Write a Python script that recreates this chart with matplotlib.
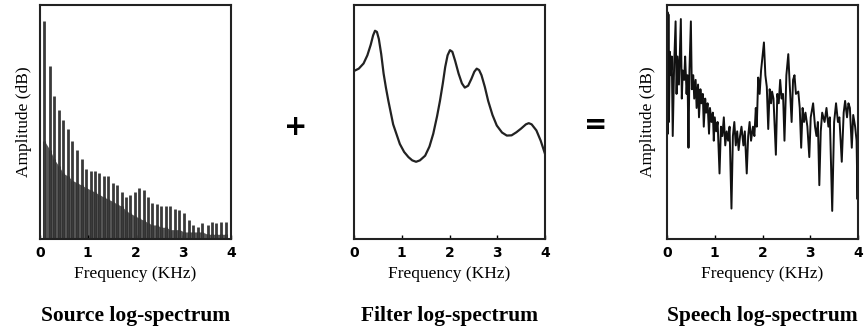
import numpy as np
import matplotlib.pyplot as plt

# ---- data (amplitude on a 0-100 relative scale) ----

# source: harmonic frequencies (kHz), harmonic peak heights and the dark floor
harm_freq = [0.09, 0.21, 0.30, 0.40, 0.49, 0.58, 0.68, 0.78, 0.87, 0.96,
             1.06, 1.15, 1.24, 1.33, 1.43, 1.53, 1.61, 1.71, 1.81, 1.89,
             1.98, 2.07, 2.17, 2.26, 2.35, 2.44, 2.54, 2.64, 2.73, 2.83,
             2.92, 3.02, 3.11, 3.21, 3.31, 3.40, 3.51, 3.60, 3.69, 3.79, 3.89]
harm_peak = [93, 74, 61, 55, 51, 47, 42, 38, 34, 30,
             29, 29, 28, 27, 27, 24, 23, 20, 18, 19,
             20, 22, 21, 18, 15.5, 15, 14, 14, 14, 13,
             12.4, 11, 8, 6, 5.3, 6.7, 6, 7.4, 6.7, 7.4, 7.4]
harm_floor = [42, 38, 34, 31, 28, 27, 25, 24, 23, 22,
              21, 20, 19, 18, 17, 16, 15, 14, 12, 11,
              10, 9, 8, 7, 6, 6, 5, 5, 4, 4,
              4, 3, 3, 3, 3, 3, 2, 2, 2, 2, 2]

# filter: smooth vocal tract envelope
filt_freq = [0.00, 0.10, 0.20, 0.28, 0.35, 0.40, 0.44, 0.48, 0.52, 0.57,
             0.62, 0.67, 0.72, 0.82, 0.96, 1.05, 1.14, 1.22, 1.30, 1.38,
             1.49, 1.58, 1.66, 1.74, 1.80, 1.86, 1.91, 1.96, 2.01, 2.06,
             2.12, 2.19, 2.26, 2.32, 2.39, 2.46, 2.52, 2.57, 2.62, 2.67,
             2.74, 2.81, 2.90, 2.99, 3.10, 3.20, 3.30, 3.40, 3.50, 3.60,
             3.66, 3.72, 3.82, 3.91, 4.00]
filt_amp = [71.8, 72.8, 75, 78.5, 83, 87, 89, 88.5, 85.5, 79,
            70.7, 64.5, 59, 49, 40.6, 37.2, 35, 33.6, 33, 33.6,
            35.6, 39.5, 45, 52.5, 59, 66.5, 73.5, 78.5, 80.7, 80,
            76, 70.7, 66.5, 64.7, 65.5, 68.5, 71.5, 72.8, 72.2, 70,
            65, 59, 53, 48.5, 45.5, 44.2, 44.3, 45.6, 47.2, 49,
            49.5, 49, 46.4, 42, 36.4]

# speech: source x filter, noisy trace
speech_freq = [0.00, 0.01, 0.02, 0.03, 0.04, 0.06, 0.08, 0.10, 0.12, 0.15,
               0.18, 0.20, 0.22, 0.25, 0.27, 0.29, 0.31, 0.33, 0.36, 0.38,
               0.41, 0.43, 0.45, 0.47, 0.50, 0.52, 0.55, 0.57, 0.60, 0.62,
               0.65, 0.67, 0.70, 0.72, 0.75, 0.77, 0.80, 0.82, 0.85, 0.88,
               0.90, 0.93, 0.96, 0.98, 1.00, 1.03, 1.06, 1.10, 1.13, 1.16,
               1.19, 1.22, 1.25, 1.28, 1.31, 1.35, 1.38, 1.41, 1.44, 1.47,
               1.50, 1.53, 1.56, 1.60, 1.63, 1.67, 1.70, 1.73, 1.76, 1.80,
               1.83, 1.86, 1.88, 1.91, 1.94, 1.97, 2.00, 2.03, 2.06, 2.09,
               2.12, 2.15, 2.18, 2.20, 2.23, 2.28, 2.31, 2.34, 2.37, 2.40,
               2.43, 2.46, 2.50, 2.54, 2.57, 2.61, 2.64, 2.67, 2.70, 2.75,
               2.78, 2.81, 2.84, 2.87, 2.90, 2.94, 2.98, 3.01, 3.06, 3.10,
               3.13, 3.16, 3.19, 3.22, 3.25, 3.30, 3.34, 3.38, 3.41, 3.46,
               3.50, 3.54, 3.58, 3.61, 3.66, 3.70, 3.73, 3.77, 3.80, 3.83,
               3.87, 3.90, 3.94, 3.97, 3.99, 4.00]
speech_amp = [60, 97, 45, 96, 50, 80, 70, 78, 44, 75,
              93, 62, 78, 66, 80, 94, 60, 72, 68, 78,
              62, 70, 39, 72, 93, 64, 70, 60, 68, 56,
              66, 52, 64, 58, 62, 48, 60, 54, 58, 45,
              56, 50, 54, 42, 52, 46, 50, 28, 48, 44,
              52, 40, 46, 42, 48, 13, 44, 50, 40, 46,
              38, 44, 48, 40, 46, 28, 44, 50, 42, 48,
              44, 56, 48, 69, 62, 72, 78, 84, 70, 65,
              47, 64, 58, 63, 60, 36, 62, 58, 68, 60,
              62, 42, 70, 79, 66, 50, 68, 70, 62, 63,
              56, 39, 56, 50, 54, 48, 35, 52, 58, 48,
              44, 50, 23, 46, 54, 50, 56, 48, 52, 12,
              50, 58, 50, 52, 33, 54, 59, 52, 58, 56,
              39, 53, 48, 42, 17, 40]

ticks = [0, 1, 2, 3, 4]
titles = ["Source log-spectrum", "Filter log-spectrum", "Speech log-spectrum"]

plt.rcParams['font.family'] = ['Liberation Serif', 'DejaVu Serif']

fig = plt.figure(figsize=(8.67, 3.29), dpi=100)

lefts = [40 / 867, 354 / 867, 667 / 867]
bottom = 1 - 239 / 329
height = 234 / 329
width = 191 / 867

axes = [fig.add_axes([l, bottom, width, height]) for l in lefts]

# source panel: dark floor plus the harmonic spikes
ax = axes[0]
ax.fill_between(harm_freq, 0, harm_floor, color="#111111", alpha=0.7, lw=0)
ax.vlines(harm_freq, 0, harm_floor, color="#000000", lw=2.2)
ax.vlines(harm_freq, 0, harm_peak, color="#3a3a3a", lw=2.0)

# filter panel
axes[1].plot(filt_freq, filt_amp, color="#222222", lw=1.6)

# speech panel
axes[2].plot(speech_freq, speech_amp, color="#111111", lw=1.4)

for ax, title in zip(axes, titles):
    ax.set_xlim(0, 4)
    ax.set_ylim(0, 100)
    ax.set_xticks(ticks)
    ax.set_xticklabels([str(t) for t in ticks], fontsize=10, fontweight="bold",
                       family=["DejaVu Sans"])
    ax.set_yticks([])
    ax.tick_params(axis="x", direction="in", length=3, width=1, pad=5)
    for s in ax.spines.values():
        s.set_linewidth(1.5)
        s.set_color("#222222")
    ax.set_xlabel("Frequency (KHz)", fontsize=12.5, labelpad=4)
    ax.text(0.5, -0.33, title, transform=ax.transAxes, ha="center",
            va="center", fontsize=15.5, fontweight="bold")

axes[0].set_ylabel("Amplitude (dB)", fontsize=12.5, labelpad=6)
axes[2].set_ylabel("Amplitude (dB)", fontsize=12.5, labelpad=8)

fig.text(296 / 867, 1 - 127 / 329, "+", fontsize=20, fontweight="bold",
         ha="center", va="center", family=["DejaVu Sans"])
fig.text(596 / 867, 1 - 125 / 329, "=", fontsize=20, fontweight="bold",
         ha="center", va="center", family=["DejaVu Sans"])

fig.savefig("out.png", dpi=100)
